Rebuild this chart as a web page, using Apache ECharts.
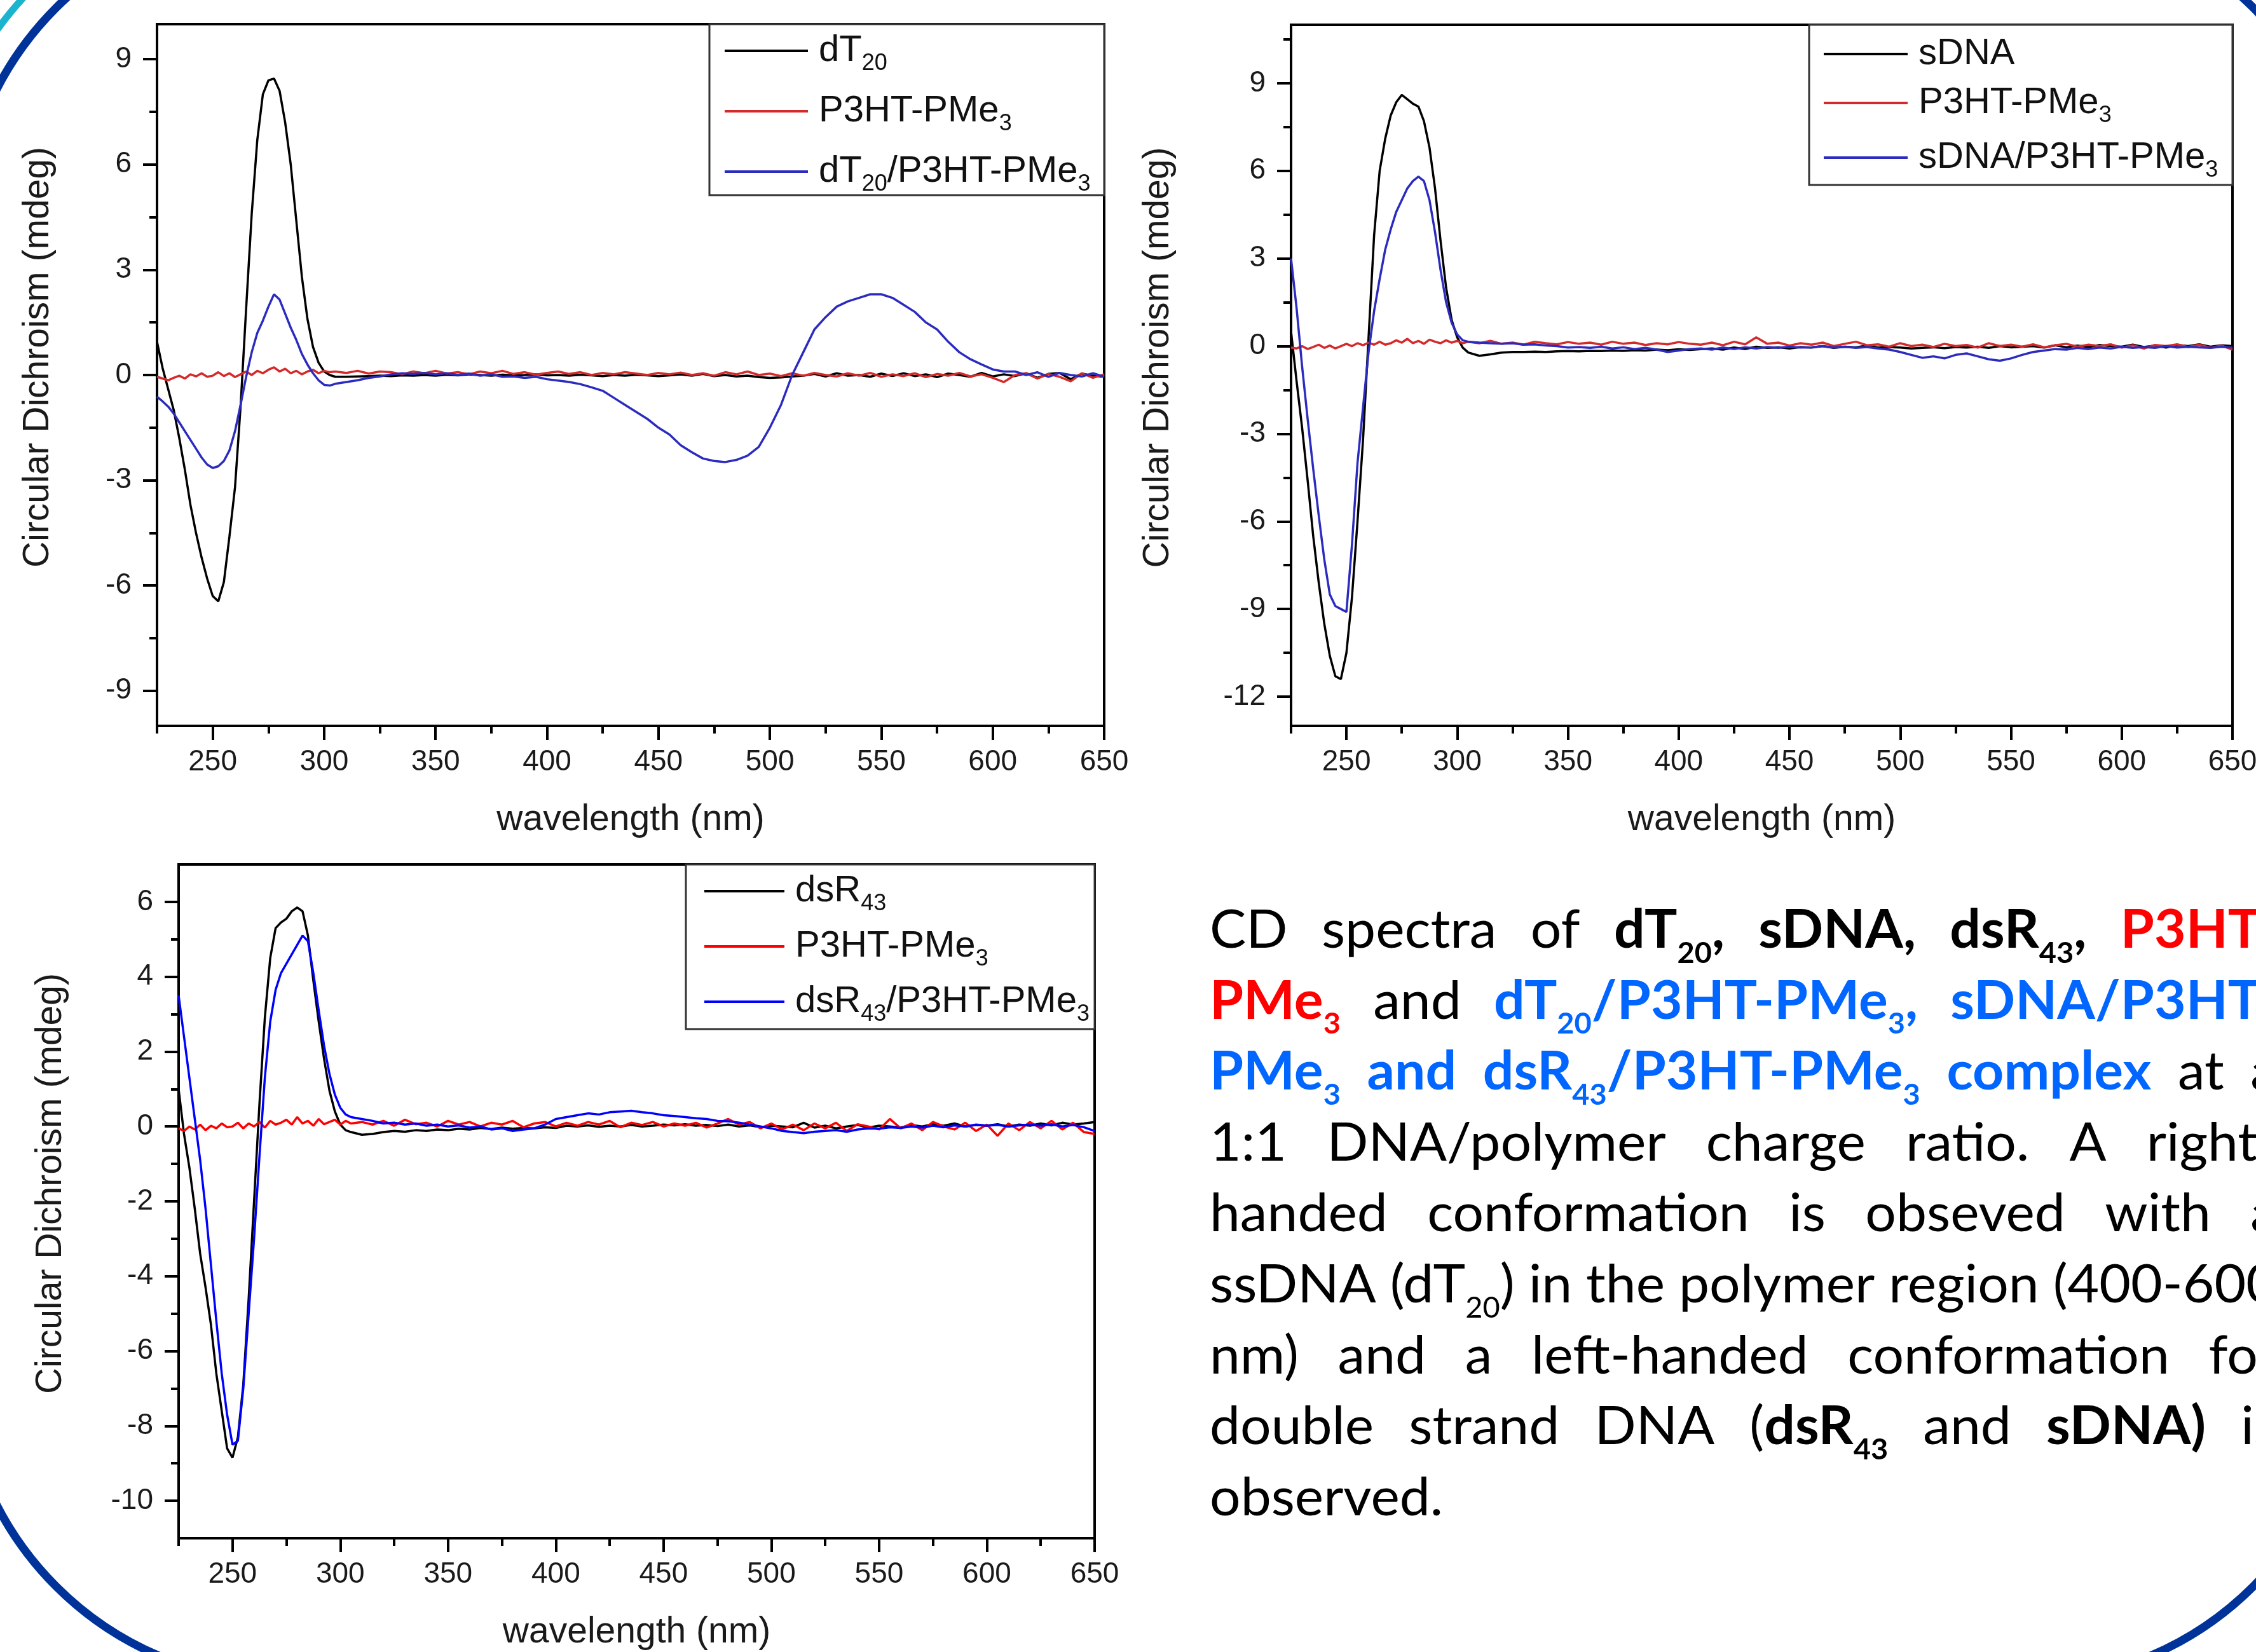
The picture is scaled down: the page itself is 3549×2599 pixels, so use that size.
<!DOCTYPE html>
<html><head><meta charset="utf-8">
<script src="https://cdn.jsdelivr.net/npm/echarts@6/dist/echarts.min.js"></script>
<style>html,body{margin:0;padding:0;background:#fff}#c{width:3549px;height:2599px}</style>
</head><body><div id="c"></div>
<script>
// ---------------- DATA ----------------
const wavelength = [
 225,227.5,230,232.5,235,237.5,240,242.5,245,247.5,
 250,252.5,255,257.5,260,262.5,265,267.5,270,272.5,
 275,277.5,280,282.5,285,287.5,290,292.5,295,297.5,
 300,302.5,305,
 310,315,320,325,330,335,340,345,350,355,
 360,365,370,375,380,385,390,395,400,405,
 410,415,420,425,430,435,440,445,450,455,
 460,465,470,475,480,485,490,495,500,505,
 510,515,520,525,530,535,540,545,550,555,
 560,565,570,575,580,585,590,595,600,605,
 610,615,620,625,630,635,640,645,650];

// Panel (a)
const dT20 = [
 0.95,0.2,-0.4,-1.0,-1.8,-2.7,-3.7,-4.5,-5.2,-5.8,
 -6.3,-6.45,-5.9,-4.6,-3.2,-0.9,1.9,4.6,6.7,8.0,
 8.4,8.45,8.1,7.2,6.0,4.4,2.8,1.6,0.8,0.35,
 0.1,0.0,-0.05,
 -0.05,-0.04,-0.03,-0.02,-0.03,-0.01,-0.02,0.0,-0.02,0.01,
 -0.01,0.02,0.0,-0.02,0.01,-0.01,0.0,0.02,-0.01,0.0,
 -0.02,0.01,-0.01,-0.03,0.0,-0.02,0.01,-0.01,-0.03,-0.01,
 0.02,-0.02,0.03,-0.03,0.0,-0.04,-0.02,-0.06,-0.08,-0.07,
 -0.04,-0.02,0.03,-0.04,0.05,-0.02,0.0,-0.05,0.04,-0.03,
 0.05,-0.03,0.02,-0.06,0.04,0.0,-0.05,0.06,-0.04,0.02,
 -0.03,0.05,-0.08,0.03,0.06,-0.12,0.04,-0.02,-0.05];
const p3htA = [
 -0.05,-0.1,-0.15,-0.08,-0.02,-0.1,0.02,-0.04,0.05,-0.05,
 -0.02,0.08,-0.03,0.05,-0.06,0.02,0.1,0.0,0.12,0.05,
 0.15,0.22,0.1,0.18,0.05,0.12,0.02,0.1,0.15,0.05,
 0.12,0.08,0.1,
 0.06,0.12,0.04,0.1,0.08,0.02,0.1,0.05,0.12,0.04,
 0.08,0.02,0.1,0.05,0.12,0.03,0.08,0.01,0.06,0.1,
 0.03,0.08,0.0,0.06,0.02,0.08,0.04,0.0,0.06,0.02,
 0.07,0.0,0.05,-0.02,0.08,0.02,0.1,0.0,0.04,-0.03,
 0.05,-0.02,0.06,0.0,-0.04,0.05,-0.02,0.06,-0.05,0.02,
 -0.03,0.05,-0.06,0.03,-0.02,0.06,-0.04,0.02,-0.08,-0.2,
 0.0,0.05,-0.1,0.03,-0.05,-0.18,0.05,-0.08,0.02];
const dT20Complex = [
 -0.62,-0.75,-0.9,-1.1,-1.35,-1.6,-1.85,-2.1,-2.35,-2.55,
 -2.65,-2.6,-2.45,-2.15,-1.6,-0.85,-0.05,0.65,1.2,1.55,
 1.95,2.3,2.15,1.75,1.35,1.0,0.6,0.3,0.05,-0.15,
 -0.28,-0.3,-0.25,
 -0.2,-0.15,-0.08,-0.04,0.02,0.05,0.03,0.06,0.02,0.05,
 0.0,0.04,-0.02,0.02,-0.05,-0.04,-0.08,-0.05,-0.12,-0.16,
 -0.2,-0.26,-0.35,-0.45,-0.65,-0.85,-1.05,-1.25,-1.5,-1.7,
 -2.0,-2.2,-2.38,-2.45,-2.48,-2.42,-2.3,-2.05,-1.5,-0.85,
 0.0,0.65,1.3,1.65,1.95,2.1,2.2,2.3,2.3,2.2,
 2.0,1.8,1.5,1.3,0.95,0.65,0.45,0.3,0.16,0.1,
 0.1,0.0,0.08,-0.05,0.06,0.0,-0.04,0.05,-0.05];

// Panel (b)
const sDNA = [
 0.5,-1.2,-2.8,-4.6,-6.5,-8.1,-9.5,-10.6,-11.3,-11.4,
 -10.5,-8.6,-6.0,-3.2,0.3,3.8,6.0,7.1,7.9,8.35,
 8.6,8.45,8.3,8.2,7.7,6.8,5.4,3.6,2.0,0.9,
 0.3,-0.05,-0.22,
 -0.33,-0.28,-0.22,-0.2,-0.2,-0.19,-0.2,-0.18,-0.17,-0.18,
 -0.16,-0.17,-0.15,-0.16,-0.14,-0.15,-0.12,-0.14,-0.11,-0.13,
 -0.1,-0.08,-0.12,-0.05,-0.1,-0.02,-0.06,-0.04,-0.08,-0.03,
 -0.05,0.0,-0.06,-0.02,-0.04,0.02,-0.05,-0.03,-0.05,-0.08,
 -0.06,-0.04,-0.07,-0.03,-0.05,-0.02,-0.06,0.0,-0.04,-0.02,
 0.0,-0.05,0.03,-0.04,0.02,-0.03,0.04,0.0,-0.02,0.05,
 -0.03,0.02,-0.05,0.04,0.0,0.06,-0.02,0.03,0.0];
const p3htB = [
 -0.05,-0.08,0.0,-0.1,-0.03,0.05,-0.06,0.02,-0.08,0.0,
 0.08,0.0,0.1,0.03,0.12,0.05,0.15,0.05,0.1,0.2,
 0.12,0.25,0.1,0.18,0.08,0.22,0.15,0.1,0.2,0.12,
 0.18,0.1,0.15,
 0.1,0.18,0.08,0.12,0.05,0.15,0.1,0.06,0.14,0.08,
 0.12,0.05,0.15,0.08,0.12,0.04,0.1,0.06,0.14,0.08,
 0.05,0.12,0.03,0.15,0.06,0.3,0.08,0.12,0.02,0.1,
 0.05,0.12,0.0,0.08,0.15,0.03,0.06,-0.02,0.1,0.0,
 0.05,-0.03,0.08,0.0,0.04,-0.05,0.1,0.0,0.05,-0.02,
 0.06,-0.04,0.03,0.08,-0.02,0.05,0.0,0.06,-0.05,0.03,
 -0.08,0.04,0.0,0.06,-0.03,0.05,-0.06,0.02,-0.12];
const sDNAComplex = [
 3.0,1.3,-0.7,-2.5,-4.2,-5.8,-7.3,-8.5,-8.9,-9.0,
 -9.1,-6.8,-4.0,-2.1,-0.2,1.2,2.3,3.3,4.0,4.6,
 5.0,5.4,5.65,5.8,5.65,5.0,3.9,2.6,1.5,0.8,
 0.4,0.2,0.15,
 0.12,0.1,0.08,0.1,0.05,0.06,0.02,0.0,-0.05,-0.03,
 -0.06,-0.02,-0.08,-0.04,-0.1,-0.06,-0.12,-0.2,-0.15,-0.1,
 -0.08,-0.12,-0.05,-0.1,-0.04,-0.08,-0.03,-0.06,-0.02,-0.05,
 -0.04,0.0,-0.05,-0.02,-0.06,-0.03,-0.08,-0.12,-0.2,-0.3,
 -0.4,-0.35,-0.42,-0.3,-0.25,-0.35,-0.45,-0.5,-0.42,-0.3,
 -0.2,-0.15,-0.1,-0.12,-0.06,-0.1,-0.05,-0.08,-0.02,-0.06,
 -0.03,-0.06,0.0,-0.05,-0.02,-0.04,-0.06,-0.02,-0.05];

// Panel (c)
const dsR43 = [
 1.0,-0.2,-1.1,-2.2,-3.4,-4.3,-5.3,-6.6,-7.6,-8.6,
 -8.85,-8.3,-6.9,-4.6,-2.0,0.6,2.9,4.5,5.3,5.45,
 5.55,5.75,5.85,5.75,5.1,3.9,2.8,1.8,0.95,0.4,
 0.05,-0.1,-0.15,
 -0.22,-0.2,-0.15,-0.12,-0.14,-0.1,-0.12,-0.08,-0.1,-0.06,
 -0.08,-0.04,-0.07,-0.03,-0.06,-0.04,-0.05,-0.02,-0.04,0.02,
 0.0,0.03,-0.01,0.02,0.0,0.04,0.0,0.02,0.05,0.03,
 0.06,0.02,0.04,0.01,0.05,0.0,0.03,-0.02,0.02,0.0,
 -0.02,0.1,-0.03,0.02,-0.05,0.0,0.04,-0.03,0.02,0.0,
 -0.03,0.04,0.0,0.06,0.02,0.08,0.0,0.04,0.02,0.06,
 0.0,0.05,0.02,0.08,0.03,0.1,0.05,0.08,0.12];
const p3htC = [
 -0.05,-0.12,0.0,-0.08,0.05,-0.1,0.02,-0.05,0.08,-0.02,
 0.0,0.1,-0.05,0.08,0.0,0.12,-0.03,0.15,0.05,0.1,
 0.18,0.05,0.25,0.08,0.15,0.02,0.2,0.06,0.12,0.18,
 0.05,0.15,0.08,
 0.12,0.05,0.15,0.02,0.18,0.06,0.1,0.0,0.15,0.05,
 0.12,0.0,0.1,0.05,0.15,-0.02,0.08,0.12,0.0,0.1,
 0.02,0.12,0.05,0.15,-0.02,0.1,0.04,0.12,0.0,0.08,
 0.02,0.1,-0.03,0.08,0.2,0.05,0.12,-0.05,0.08,-0.08,
 0.05,-0.1,0.08,-0.05,0.1,-0.12,0.06,0.0,-0.08,0.2,
 -0.05,0.08,-0.1,0.12,0.0,-0.08,0.1,-0.12,0.05,-0.25,
 0.08,-0.1,0.12,-0.05,0.15,-0.08,0.1,-0.15,-0.2];
const dsR43Complex = [
 3.5,2.4,1.3,0.2,-0.9,-2.2,-3.7,-5.2,-6.6,-7.7,
 -8.5,-8.4,-7.0,-5.0,-3.0,-0.8,1.3,2.8,3.65,4.1,
 4.35,4.6,4.85,5.1,4.95,4.1,3.1,2.15,1.4,0.85,
 0.5,0.32,0.25,
 0.2,0.15,0.08,0.1,0.05,0.08,0.02,0.05,0.0,0.03,
 -0.03,0.0,-0.08,-0.05,-0.12,-0.08,-0.05,0.05,0.2,0.25,
 0.3,0.35,0.32,0.38,0.4,0.42,0.38,0.35,0.3,0.28,
 0.25,0.22,0.2,0.15,0.14,0.1,0.05,0.0,-0.05,-0.12,
 -0.15,-0.18,-0.14,-0.12,-0.1,-0.14,-0.08,-0.05,-0.06,-0.02,
 -0.04,0.0,-0.03,0.02,-0.02,0.03,0.0,0.05,0.02,0.04,
 0.0,0.03,0.05,0.02,0.06,0.0,0.04,-0.02,-0.12];

// Tick values
const xMajorTicks = [250,300,350,400,450,500,550,600,650];
const xMinorTicks = [225,275,325,375,425,475,525,575,625];
const yMajorA = [-9,-6,-3,0,3,6,9];
const yMinorA = [-7.5,-4.5,-1.5,1.5,4.5,7.5];
const yMajorB = [-12,-9,-6,-3,0,3,6,9];
const yMinorB = [-10.5,-7.5,-4.5,-1.5,1.5,4.5,7.5,10.5];
const yMajorC = [-10,-8,-6,-4,-2,0,2,4,6];
const yMinorC = [-9,-7,-5,-3,-1,1,3,5];

// ---------------- LAYOUT / STYLE ----------------
const AX_FONT = 'Liberation Sans';
const grids = [
  {left:247, top:38, width:1490, height:1104},
  {left:2031, top:39, width:1481, height:1103},
  {left:281, top:1360, width:1441, height:1060}
];
const yRanges = [[-10,10],[-13,11],[-11,7]];
const yMajors = [yMajorA, yMajorB, yMajorC];
const yMinors = [yMinorA, yMinorB, yMinorC];
const yNameGaps = [158, 180, 172];

const xAxes = [], yAxes = [];
for (let i = 0; i < 3; i++) {
  xAxes[i] = {
    type:'value', gridIndex:i, min:225, max:650, position:'bottom',
    axisLine:{show:true, onZero:false, lineStyle:{color:'#000', width:4}},
    axisTick:{show:true, customValues:xMajorTicks, length:22, lineStyle:{color:'#000', width:4}},
    axisLabel:{show:true, customValues:xMajorTicks, fontSize:46, margin:34, color:'#1a1a1a', fontFamily:AX_FONT},
    splitLine:{show:false},
    name:'wavelength (nm)', nameLocation:'middle', nameGap:120,
    nameTextStyle:{fontSize:57, color:'#1a1a1a', fontFamily:AX_FONT}
  };
  xAxes[3+i] = {
    type:'value', gridIndex:i, min:225, max:650, position:'bottom',
    axisLine:{show:false, onZero:false},
    axisTick:{show:true, customValues:xMinorTicks, length:12, lineStyle:{color:'#000', width:4}},
    axisLabel:{show:false}, splitLine:{show:false}
  };
  yAxes[i] = {
    type:'value', gridIndex:i, min:yRanges[i][0], max:yRanges[i][1], position:'left',
    axisLine:{show:true, onZero:false, lineStyle:{color:'#000', width:4}},
    axisTick:{show:true, customValues:yMajors[i], length:22, lineStyle:{color:'#000', width:4}},
    axisLabel:{show:true, customValues:yMajors[i], fontSize:46, margin:40, color:'#1a1a1a', fontFamily:AX_FONT},
    splitLine:{show:false},
    name:'Circular Dichroism (mdeg)', nameLocation:'middle', nameGap:yNameGaps[i],
    nameTextStyle:{fontSize:57, color:'#1a1a1a', fontFamily:AX_FONT, padding:[0,0,0,56]}
  };
  yAxes[3+i] = {
    type:'value', gridIndex:i, min:yRanges[i][0], max:yRanges[i][1], position:'left',
    axisLine:{show:false, onZero:false},
    axisTick:{show:true, customValues:yMinors[i], length:12, lineStyle:{color:'#000', width:4}},
    axisLabel:{show:false}, splitLine:{show:false}
  };
}

const panelSeries = [
  [['dT20', dT20, '#000000'], ['P3HT-PMe3', p3htA, '#d42a2a'], ['dT20/P3HT-PMe3', dT20Complex, '#2b2bbf']],
  [['sDNA', sDNA, '#000000'], ['P3HT-PMe3 ', p3htB, '#d42a2a'], ['sDNA/P3HT-PMe3', sDNAComplex, '#2b2bbf']],
  [['dsR43', dsR43, '#000000'], ['P3HT-PMe3  ', p3htC, '#ff0000'], ['dsR43/P3HT-PMe3', dsR43Complex, '#0000ff']]
];
const series = [];
panelSeries.forEach((grp, i) => grp.forEach(([name, vals, color]) => {
  series.push({
    type:'line', name, xAxisIndex:i, yAxisIndex:i,
    data: wavelength.map((w, j) => [w, vals[j]]),
    symbol:'none', showSymbol:false, smooth:false,
    lineStyle:{width:3.5, color}, itemStyle:{color}, animation:false
  });
}));

const legendLabels = {
  'dT20':'{m|dT}{s|20}',
  'P3HT-PMe3':'{m|P3HT-PMe}{s|3}',
  'dT20/P3HT-PMe3':'{m|dT}{s|20}{m|/P3HT-PMe}{s|3}',
  'sDNA':'{m|sDNA}',
  'P3HT-PMe3 ':'{m|P3HT-PMe}{s|3}',
  'sDNA/P3HT-PMe3':'{m|sDNA/P3HT-PMe}{s|3}',
  'dsR43':'{m|dsR}{s|43}',
  'P3HT-PMe3  ':'{m|P3HT-PMe}{s|3}',
  'dsR43/P3HT-PMe3':'{m|dsR}{s|43}{m|/P3HT-PMe}{s|3}'
};
const legendRich = {
  m:{fontSize:58, fontFamily:AX_FONT, color:'#111', lineHeight:64},
  s:{fontSize:36, fontFamily:AX_FONT, color:'#111', padding:[40,0,0,0]}
};
const legendPos = [
  {left:1140, top:51, itemWidth:131, itemGap:28},
  {left:2869, top:56, itemWidth:132, itemGap:19},
  {left:1108, top:1373, itemWidth:126, itemGap:20}
];
const legends = panelSeries.map((grp, i) => ({
  show:true, orient:'vertical', left:legendPos[i].left, top:legendPos[i].top,
  padding:0, itemGap:legendPos[i].itemGap, itemWidth:legendPos[i].itemWidth, itemHeight:4,
  icon:'rect', data: grp.map(g => g[0]), selectedMode:false, z:5,
  formatter: name => legendLabels[name],
  textStyle:{padding:[0,0,0,12], rich:legendRich}
}));

// ---------------- Caption text (justified, measured at runtime) ----------------
const BODY_FONT = 'Lato';
const SEG = {
  n:{w:'normal', c:'#000000', sub:false}, ns:{w:'normal', c:'#000000', sub:true},
  b:{w:'bold', c:'#000000', sub:false},   bs:{w:'bold', c:'#000000', sub:true},
  r:{w:'bold', c:'#ff0000', sub:false},   rs:{w:'bold', c:'#ff0000', sub:true},
  u:{w:'bold', c:'#0066ff', sub:false},   us:{w:'bold', c:'#0066ff', sub:true}
};
const captionLines = [
  [[['CD','n']],[['spectra','n']],[['of','n']],[['dT','b'],['20','bs'],[',','b']],[['sDNA,','b']],[['dsR','b'],['43','bs'],[',','b']],[['P3HT-','r']]],
  [[['PMe','r'],['3','rs']],[['and','n']],[['dT','u'],['20','us'],['/P3HT-PMe','u'],['3','us'],[',','u']],[['sDNA/P3HT-','u']]],
  [[['PMe','u'],['3','us']],[['and','u']],[['dsR','u'],['43','us'],['/P3HT-PMe','u'],['3','us']],[['complex','u']],[['at','n']],[['a','n']]],
  [[['1:1','n']],[['DNA/polymer','n']],[['charge','n']],[['ratio.','n']],[['A','n']],[['right-','n']]],
  [[['handed','n']],[['conformation','n']],[['is','n']],[['obseved','n']],[['with','n']],[['a','n']]],
  [[['ssDNA','n']],[['(dT','n'],['20','ns'],[')','n']],[['in','n']],[['the','n']],[['polymer','n']],[['region','n']],[['(400-600','n']]],
  [[['nm)','n']],[['and','n']],[['a','n']],[['left-handed','n']],[['conformation','n']],[['for','n']]],
  [[['double','n']],[['strand','n']],[['DNA','n']],[['(','n'],['dsR','b'],['43','bs']],[['and','n']],[['sDNA)','b']],[['is','n']]],
  [[['observed.','n']]]
];
const F = 84, FS = 46, SUB_DROP = 22, K = 0.37;
const X0 = 1903, TEXT_W = 1680, BASE0 = 1495, LINE_H = 111.6;
const mctx = document.createElement('canvas').getContext('2d');
function mw(t, k) {
  const s = SEG[k];
  mctx.font = s.w + ' ' + (s.sub ? FS : F) + 'px ' + BODY_FONT;
  return mctx.measureText(t).width;
}
const wordW = word => word.reduce((a, [t, k]) => a + mw(t, k), 0);
const spaceW = mw(' ', 'n');
const l6 = captionLines[5];
const natural6 = l6.reduce((a, w) => a + wordW(w), 0) + spaceW * (l6.length - 1);
const sx = TEXT_W / natural6;
const captionEls = [];
captionLines.forEach((line, li) => {
  const total = line.reduce((a, w) => a + wordW(w), 0) * sx;
  const last = li === captionLines.length - 1;
  const gap = last ? spaceW * sx : (TEXT_W - total) / (line.length - 1);
  const base = BASE0 + li * LINE_H;
  let x = X0;
  line.forEach(word => {
    word.forEach(([t, k]) => {
      const s = SEG[k];
      const y = s.sub ? base + SUB_DROP - K * FS : base - K * F;
      captionEls.push({
        type:'text', x, y, scaleX:sx, z:10, silent:true,
        style:{text:t, fontFamily:BODY_FONT, fontSize:s.sub ? FS : F, fontWeight:s.w,
               fill:s.c, align:'left', verticalAlign:'middle'}
      });
      x += mw(t, k) * sx;
    });
    x += gap;
  });
});

const decor = [
  {type:'rect', z:3, silent:true, shape:{x:1116, y:38, width:621, height:269}, style:{fill:'#fff', stroke:'#333', lineWidth:3}},
  {type:'rect', z:3, silent:true, shape:{x:2846, y:39, width:666, height:252}, style:{fill:'#fff', stroke:'#333', lineWidth:3}},
  {type:'rect', z:3, silent:true, shape:{x:1079, y:1360, width:643, height:259}, style:{fill:'#fff', stroke:'#333', lineWidth:3}},
  {type:'rect', z:1, silent:true, shape:{x:-62, y:-138, width:3757, height:2784, r:513}, style:{fill:'none', stroke:'#00339a', lineWidth:13}},
  {type:'arc', z:1, silent:true, shape:{cx:451, cy:374.5, r:561, startAngle:Math.PI, endAngle:Math.PI*1.5}, style:{fill:'none', stroke:'#1bb4cf', lineWidth:11}}
];

const option = {
  backgroundColor:'#ffffff',
  animation:false,
  textStyle:{fontFamily:AX_FONT},
  grid: grids.map(g => Object.assign({show:true, borderColor:'#000', borderWidth:4, backgroundColor:'transparent', containLabel:false, outerBoundsMode:'none'}, g)),
  xAxis: xAxes,
  yAxis: yAxes,
  legend: legends,
  series,
  graphic:{elements: decor.concat(captionEls)}
};
const chart = echarts.init(document.getElementById('c'), null, {renderer:'canvas', width:3549, height:2599});
chart.setOption(option);
</script>
</body></html>
